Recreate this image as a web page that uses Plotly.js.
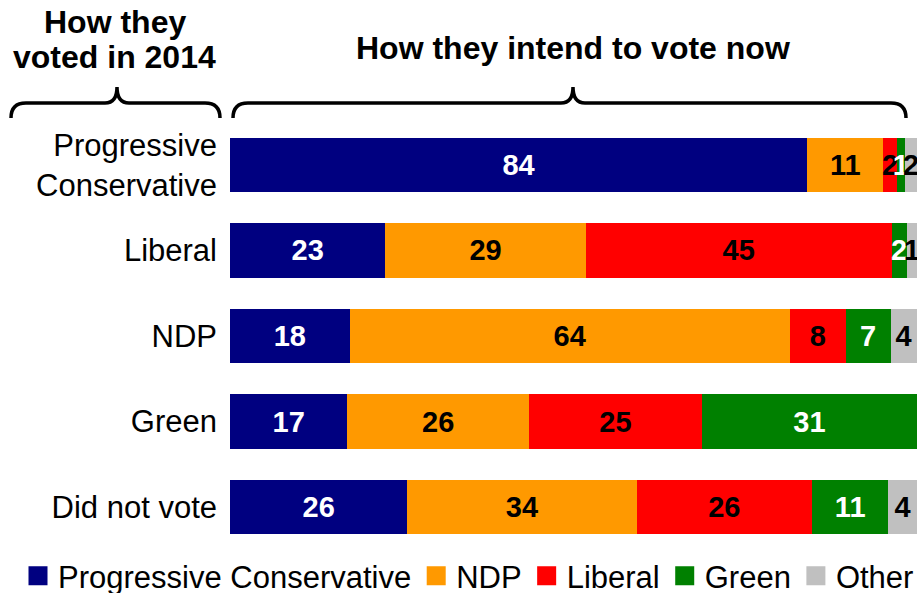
<!DOCTYPE html>
<html>
<head>
<meta charset="utf-8">
<script src="https://cdn.plot.ly/plotly-3.0.1.min.js"></script>
<style>html,body{margin:0;padding:0;background:#fff;}#chart{width:917px;height:593px;}</style>
</head>
<body>
<div id="chart"></div>
<script>
// Rows: how they voted in 2014
var categories = ["Progressive<br>Conservative", "Liberal", "NDP", "Green", "Did not vote"];

// Segment shares - how they intend to vote now
var pcValues     = [84.0, 22.6, 17.4, 17.1, 25.8];
var ndpValues    = [11.1, 29.2, 64.1, 26.4, 33.4];
var liberalValues= [1.95, 44.5, 8.1, 25.2, 25.5];
var greenValues  = [1.2, 2.2, 6.55, 31.3, 11.15];
var otherValues  = [1.75, 1.5, 3.8, 0, 4.1];

// Printed labels on the segments
var pcLabels      = ["84", "23", "18", "17", "26"];
var ndpLabels     = ["11", "29", "64", "26", "34"];
var liberalLabels = ["2", "45", "8", "25", "26"];
var greenLabels   = ["1", "2", "7", "31", "11"];
var otherLabels   = ["2", "1", "4", "", "4"];

var seriesNames  = ["Progressive Conservative", "NDP", "Liberal", "Green", "Other"];
var seriesColors = ["#000080", "#FF9900", "#FF0000", "#008000", "#C0C0C0"];
var textColors   = ["#FFFFFF", "#000000", "#000000", "#FFFFFF", "#000000"];

var FONT = "Liberation Sans, Arial, sans-serif";
var W = 917, H = 593;
var mL = 230, mR = 0, mT = 122, mB = 43;
var pw = W - mL - mR, ph = H - mT - mB;
function px(x){ return (x - mL) / pw; }
function py(y){ return (H - mB - y) / ph; }

var allValues = [pcValues, ndpValues, liberalValues, greenValues, otherValues];
var allLabels = [pcLabels, ndpLabels, liberalLabels, greenLabels, otherLabels];

var traces = seriesNames.map(function(name, i){
  return {
    type: "bar",
    orientation: "h",
    name: name,
    legendgroup: name,
    showlegend: false,
    y: categories,
    x: allValues[i],
    text: allLabels[i],
    textposition: "inside",
    insidetextanchor: "middle",
    constraintext: "none",
    textangle: 0,
    cliponaxis: false,
    insidetextfont: {family: FONT, size: 29, color: textColors[i], weight: "bold"},
    marker: {color: seriesColors[i], line: {width: 0}},
    hoverinfo: "skip"
  };
});

// legend keys (square swatches)
seriesNames.forEach(function(name, i){
  traces.push({
    type: "scatter", mode: "markers", name: name, legendgroup: name,
    x: [null], y: [null], showlegend: true, hoverinfo: "skip",
    marker: {symbol: "square", size: 16, color: seriesColors[i], line: {color: seriesColors[i], width: 3}}
  });
});

function bracePath(x1, x2, xm, ytip, ymid, yend){
  var r = 15, t = 12;
  function P(a,b){ return px(a).toFixed(5) + "," + py(b).toFixed(5); }
  return "M " + P(x1, yend) +
    " Q " + P(x1, ymid) + " " + P(x1 + r, ymid) +
    " L " + P(xm - t, ymid) +
    " Q " + P(xm, ymid) + " " + P(xm, ytip) +
    " Q " + P(xm, ymid) + " " + P(xm + t, ymid) +
    " L " + P(x2 - r, ymid) +
    " Q " + P(x2, ymid) + " " + P(x2, yend);
}

function label(text, x, y){
  return {xref: "paper", yref: "paper", x: px(x), y: py(y), xanchor: "center", yanchor: "middle",
          showarrow: false, text: "<b>" + text + "</b>", font: {family: FONT, size: 32, color: "#000"}};
}

var layout = {
  width: W, height: H,
  margin: {l: mL, r: mR, t: mT, b: mB, pad: 0, autoexpand: false},
  paper_bgcolor: "#fff", plot_bgcolor: "#fff",
  barmode: "stack",
  bargap: 0.363,
  showlegend: true,
  font: {family: FONT, color: "#000"},
  xaxis: {range: [0, 100], visible: false, fixedrange: true},
  yaxis: {
    range: [4.5, -0.5], showline: false, showgrid: false, zeroline: false,
    ticks: "", ticklabelstandoff: 12,
    tickfont: {family: FONT, size: 31, color: "#000"}, fixedrange: true
  },
  legend: {
    orientation: "h", x: px(18), xanchor: "left", y: py(576), yanchor: "middle",
    font: {family: FONT, size: 31, color: "#000"},
    traceorder: "normal", bgcolor: "rgba(0,0,0,0)", itemclick: false
  },
  shapes: [
    {type: "path", xref: "paper", yref: "paper", path: bracePath(11, 220, 117, 87, 103, 118), line: {color: "#000", width: 3.5}},
    {type: "path", xref: "paper", yref: "paper", path: bracePath(233, 906, 573, 87, 103, 118), line: {color: "#000", width: 3.5}}
  ],
  annotations: [
    label("How they", 115, 22),
    label("voted in 2014", 115, 57),
    label("How they intend to vote now", 573, 48)
  ]
};

Plotly.newPlot("chart", traces, layout, {displayModeBar: false, staticPlot: true});
</script>
</body>
</html>
